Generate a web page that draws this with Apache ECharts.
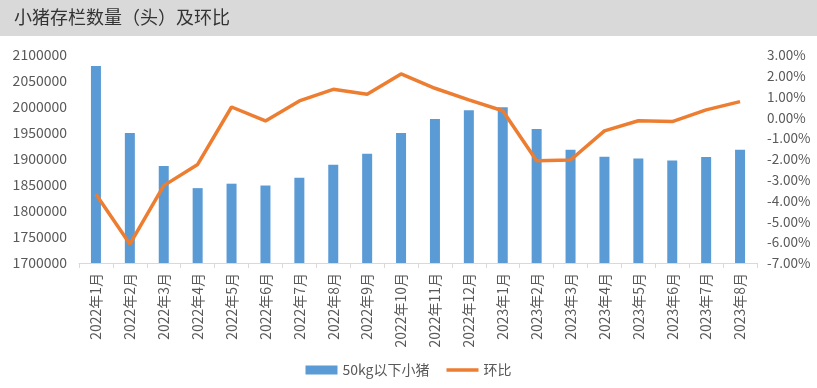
<!DOCTYPE html>
<html><head><meta charset="utf-8">
<script src="https://cdn.jsdelivr.net/npm/echarts@6/dist/echarts.min.js"></script>
<style>html,body{margin:0;padding:0;background:#fff}#c{width:817px;height:388px}</style>
</head><body><div id="c"></div>
<script>
const categories = ['2022年1月','2022年2月','2022年3月','2022年4月','2022年5月','2022年6月','2022年7月','2022年8月','2022年9月','2022年10月','2022年11月','2022年12月','2023年1月','2023年2月','2023年3月','2023年4月','2023年5月','2023年6月','2023年7月','2023年8月'];
const piglets = [2079000,1950000,1886500,1844000,1852500,1849000,1864000,1889000,1910000,1950000,1977000,1993600,1999500,1957700,1918000,1904500,1901000,1897000,1904000,1918000];
const momPct = [-3.70,-6.09,-3.28,-2.26,0.50,-0.17,0.79,1.35,1.11,2.09,1.40,0.84,0.32,-2.08,-2.05,-0.65,-0.16,-0.20,0.36,0.76];
const leftTicks = {min:1700000,max:2100000,interval:50000};
const rightTicks = {min:-7,max:3,interval:1};

const chart = echarts.init(document.getElementById('c'));
const font = '"Noto Sans CJK SC","Noto Sans",sans-serif';
chart.setOption({
  animation:false,
  graphic:[{type:'rect',left:0,top:0,shape:{width:817,height:36},style:{fill:'#d9d9d9'},z:-1},
           {type:'text',left:14,top:8,style:{text:'小猪存栏数量（头）及环比',font:'18px '+font,fill:'#333'}}],
  legend:{bottom:6,left:'center',itemWidth:32,itemHeight:9,itemGap:17,
    textStyle:{fontFamily:font,fontSize:14,color:'#595959'},
    data:[{name:'50kg以下小猪',icon:'rect'},{name:'环比',icon:'path://M0,0H35V4H0Z'}]},
  grid:{left:79,right:60,top:55,bottom:125},
  xAxis:{type:'category',data:categories,
    axisLine:{onZero:false,lineStyle:{color:'#d9d9d9'}},
    axisTick:{show:true,length:5,lineStyle:{color:'#d9d9d9'}},
    axisLabel:{rotate:90,interval:0,fontFamily:font,fontSize:14,color:'#595959',margin:10}},
  yAxis:[{type:'value',min:leftTicks.min,max:leftTicks.max,interval:leftTicks.interval,
    splitLine:{show:false},axisLine:{show:false},axisTick:{show:false},
    axisLabel:{fontFamily:font,fontSize:14,color:'#595959',margin:12,formatter:v=>String(v)}},
   {type:'value',min:rightTicks.min,max:rightTicks.max,interval:rightTicks.interval,
    splitLine:{show:false},axisLine:{show:false},axisTick:{show:false},
    axisLabel:{fontFamily:font,fontSize:13.5,color:'#595959',margin:10,formatter:v=>v.toFixed(2)+'%'}}],
  series:[{name:'50kg以下小猪',type:'bar',data:piglets,barWidth:10,itemStyle:{color:'#5b9bd5'}},
    {name:'环比',type:'line',yAxisIndex:1,data:momPct,symbol:'none',lineStyle:{color:'#ed7d31',width:3.5},itemStyle:{color:'#ed7d31'}}]
});
</script></body></html>
